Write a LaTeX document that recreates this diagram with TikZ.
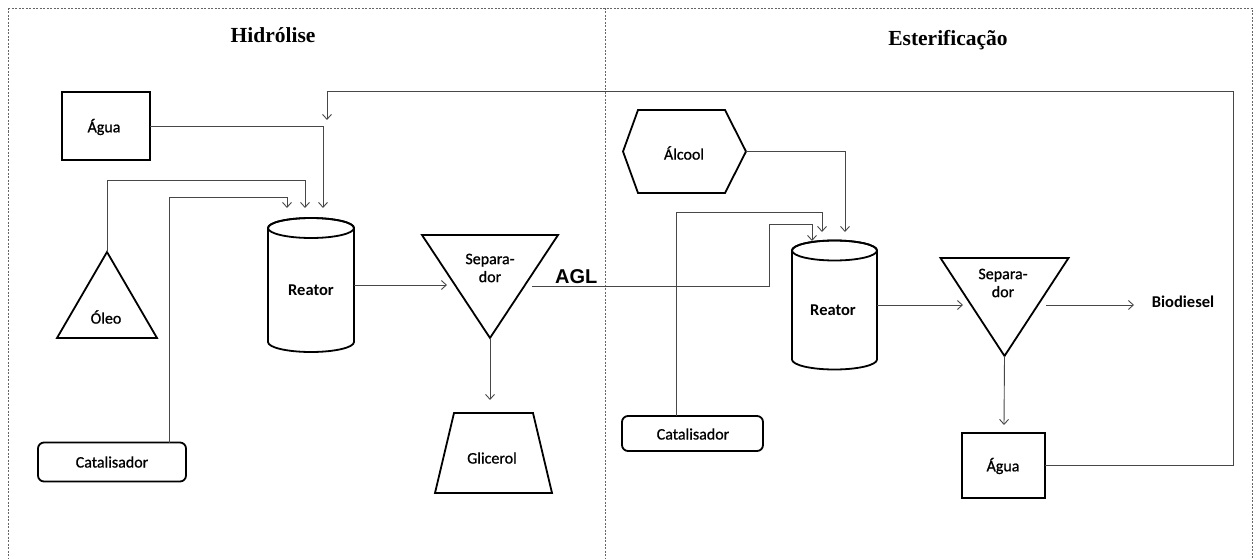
\documentclass[tikz,border=0pt]{standalone}
\usepackage{fontspec}
\setmainfont{Liberation Serif}
\newfontfamily\calf[FakeBold=0.9]{Carlito}
\newfontfamily\calb{Carlito Bold}
\newfontfamily\arialf{Liberation Sans}
\usetikzlibrary{arrows.meta,calc}
\begin{document}
\begin{tikzpicture}[x=1pt,y=-1pt,
  shapebox/.style={draw=none,inner sep=0pt,outer sep=0pt},
  outl/.style={draw=black,line width=1.8pt,line join=miter},
  conn/.style={draw=black!72,line width=0.9pt,-{Straight Barb[length=5pt,width=9pt,line width=0.9pt]}},
  lbl/.style={font=\calf\fontsize{16}{18}\selectfont,inner sep=0pt,align=center},
  blbl/.style={font=\calb\fontsize{16.5}{18}\selectfont,inner sep=0pt},
  ttl/.style={font=\bfseries\fontsize{21.5}{24}\selectfont,inner sep=0pt,anchor=base},
  frame/.style={draw=black!60,line width=0.8pt,dash pattern=on 2pt off 1.5pt}
]
\useasboundingbox (0,0) rectangle (1260,559);
\begin{scope}
\clip (0,0) rectangle (1260,559);
\draw[frame] (8,8) -- (1252,8) -- (1252,575);
\draw[frame] (8,8) -- (8,575);
\draw[frame] (605,8) -- (605,575);
\end{scope}

% titles
\node[ttl] (t1) at (273,43) {Hidrólise};
\node[ttl] (t2) at (948,46) {Esterificação};

% ---------------- Hidrolise ----------------
\node[shapebox,outl,minimum width=88pt,minimum height=68pt] (agua1) at (106,126) {};
\node[lbl] (agua1t) at (104,127) {Água};

\node[shapebox,minimum width=100pt,minimum height=86pt] (oleo) at (107,295) {};
\draw[outl] (oleo.north) -- (oleo.south east) -- (oleo.south west) -- cycle;
\node[lbl] (oleot) at (106,317) {Óleo};

\node[shapebox,outl,rounded corners=6pt,minimum width=148pt,minimum height=39pt] (cat1) at (112,462) {};
\node[lbl] (cat1t) at (112,462) {Catalisador};

% reactor 1
\node[shapebox,minimum width=86pt,minimum height=134pt] (r1) at (311,285) {};
\draw[outl] ([yshift=-10pt]r1.north west) -- ([yshift=10pt]r1.south west)
  arc[start angle=180,end angle=360,x radius=43pt,y radius=10pt]
  -- ([yshift=-10pt]r1.north east)
  arc[start angle=0,end angle=180,x radius=43pt,y radius=10pt];
\draw[outl] ([yshift=-10pt]r1.north) ellipse[x radius=43pt,y radius=10pt];
\node[blbl] (r1t) at (311,290) {Reator};

% separator 1
\node[shapebox,minimum width=136pt,minimum height=103pt] (s1) at (490,286.5) {};
\draw[outl] (s1.north west) -- (s1.north east) -- (s1.south) -- cycle;
\node[lbl] (s1t) at (490,268) {Separa-\\dor};

% glicerol
\node[shapebox,minimum width=117pt,minimum height=80pt] (gli) at (493.5,453) {};
\draw[outl] ([xshift=19pt]gli.north west) -- ([xshift=-19pt]gli.north east) -- (gli.south east) -- (gli.south west) -- cycle;
\node[lbl] (glit) at (492,458) {Glicerol};

\node[font=\arialf\bfseries\fontsize{20}{22}\selectfont,inner sep=0pt,anchor=base west] (agl) at (555,283) {AGL};

% ---------------- Esterificacao ----------------
\node[shapebox,minimum width=123pt,minimum height=83pt] (alc) at (684.5,151.5) {};
\draw[outl] (alc.west) -- ([xshift=15pt]alc.north west) -- ([xshift=-21pt]alc.north east) -- (alc.east)
  -- ([xshift=-21pt]alc.south east) -- ([xshift=15pt]alc.south west) -- cycle;
\node[lbl] (alct) at (684,153) {Álcool};

\node[shapebox,outl,rounded corners=6pt,minimum width=141pt,minimum height=35pt] (cat2) at (692.5,433.5) {};
\node[lbl] (cat2t) at (693,434) {Catalisador};

% reactor 2
\node[shapebox,minimum width=85pt,minimum height=129pt] (r2) at (834.5,305) {};
\draw[outl] ([yshift=-10pt]r2.north west) -- ([yshift=10pt]r2.south west)
  arc[start angle=180,end angle=360,x radius=42.5pt,y radius=10pt]
  -- ([yshift=-10pt]r2.north east)
  arc[start angle=0,end angle=180,x radius=42.5pt,y radius=10pt];
\draw[outl] ([yshift=-10pt]r2.north) ellipse[x radius=42.5pt,y radius=10pt];
\node[blbl] (r2t) at (833,310) {Reator};

% separator 2
\node[shapebox,minimum width=128pt,minimum height=98pt] (s2) at (1004.5,307) {};
\draw[outl] (s2.north west) -- (s2.north east) -- (s2.south) -- cycle;
\node[lbl] (s2t) at (1003,283) {Separa-\\dor};

\node[blbl] (bio) at (1183,302) {Biodiesel};

\node[shapebox,outl,minimum width=83pt,minimum height=65pt] (agua2) at (1003.5,465.5) {};
\node[lbl] (agua2t) at (1003,466) {Água};

% ---------------- connector end points ----------------
\coordinate (r1inA) at (323,208);
\coordinate (r1inB) at (305,208);
\coordinate (r1inC) at (287,208);
\coordinate (r1inD) at (327,120);
\coordinate (s1in) at (447,285);
\coordinate (gliin) at (490,400);
\coordinate (agl0) at (532,286);
\coordinate (aglup) at (769,224);
\coordinate (r2inA) at (812,241);
\coordinate (r2inB) at (845,232);
\coordinate (r2inC) at (822,232);
\coordinate (s2in) at (963,305);
\coordinate (bio0) at (1046,305);
\coordinate (bioin) at (1134,305);
\coordinate (agua2in) at (1004,425);
\coordinate (rc) at (1233,91);

% ---------------- connectors ----------------
\draw[conn] (agua1.east) -| (r1inA);
\draw[conn] (oleo.north) -- ++(0,-72) -| (r1inB);
\draw[conn] ([xshift=57pt]cat1.north) -- ++(0,-245) -| (r1inC);
\draw[conn] (agua2.east) -| (rc) -| (r1inD);
\draw[conn] (r1.east) -- (s1in);
\draw[conn] (s1.south) -- (gliin);
\draw[conn] (agl0) -| (aglup) -| (r2inA);
\draw[conn] (alc.east) -| (r2inB);
\draw[conn] ([xshift=-16.5pt]cat2.north) -- ++(0,-204) -| (r2inC);
\draw[conn] (r2.east) -- (s2in);
\draw[conn] (bio0) -- (bioin);
\draw[conn] (s2.south) -- (agua2in);
\end{tikzpicture}
\end{document}
